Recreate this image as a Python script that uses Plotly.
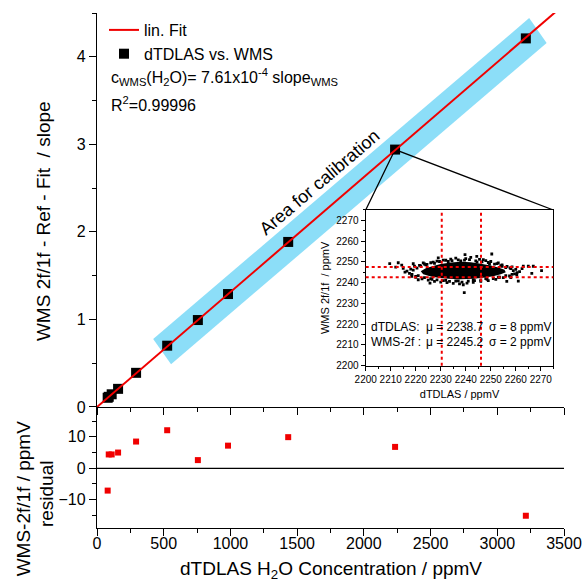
import plotly.graph_objects as go

# ---------------- data ----------------
conc_tdlas = [80, 88, 110, 158, 293, 526, 756, 982, 1433, 2234, 3214]          # ppmV
wms_scaled = [0.105, 0.116, 0.145, 0.207, 0.39, 0.70, 0.993, 1.29, 1.885, 2.94, 4.21]
residual = [-7.1, 4.4, 4.4, 5.0, 8.5, 12.1, 2.6, 7.2, 9.9, 6.8, -15.1]

fit_x = [0, 3500]
fit_y = [0, 4.595]

# calibration band corners (data units)
band_x = [421, 555, 3370, 3239, 421]
band_y = [0.777, 0.488, 4.157, 4.442, 0.777]

zoom_point_x = 2234
zoom_point_y = 2.94

# inset: dense core outline of the scatter cloud
core_x = [2222, 2224, 2227, 2230, 2234, 2238, 2242, 2246, 2250, 2253, 2255.5, 2256,
          2254, 2251, 2247, 2243, 2238, 2233, 2229, 2226, 2223, 2222]
core_y = [2245.5, 2247.0, 2248.0, 2249.0, 2249.7, 2250.1, 2249.8, 2249.1, 2248.3,
          2247.3, 2246.2, 2245.0, 2244.0, 2243.1, 2242.4, 2241.9, 2241.6, 2241.9,
          2242.4, 2243.0, 2244.0, 2245.5]
# inset: individual points around the core
pts_x = [2221.5, 2223.5, 2226, 2228.5, 2231, 2234, 2236, 2240, 2242, 2245.5, 2248, 2250,
         2252.5, 2254.5, 2256.5,
         2220, 2222.5, 2225, 2227.5, 2230, 2232.5, 2235, 2237.5, 2240.5, 2243, 2246,
         2249, 2252, 2255, 2257.5,
         2217.5, 2218, 2216.5, 2219.5, 2259.5, 2260, 2261.5, 2258.5,
         2209.6, 2213.0, 2214.4, 2215.7, 2219.0, 2223.0, 2229.0, 2239.7, 2244.4,
         2250.4, 2247.0, 2253.0, 2257.7, 2263.0, 2265.0, 2267.0, 2260.4, 2261.0,
         2270.3, 2266.4, 2256.4, 2239.0, 2239.4, 2225.7, 2221.0, 2218.4,
         2220.5, 2222, 2224.5, 2227, 2229.5, 2232, 2234.5, 2237, 2239.5, 2241.5, 2244,
         2246.5, 2249, 2251.5, 2254, 2256, 2258,
         2221, 2223.5, 2226, 2228.5, 2231, 2233.5, 2236, 2238.5, 2241, 2243.5, 2246,
         2248.5, 2251, 2253.5, 2256, 2258.5,
         2219, 2218.5, 2220, 2259, 2260.5, 2258, 2262.5, 2215, 2212,
         2224, 2227.5, 2233, 2238, 2244.5, 2249.5, 2254.5, 2226.5, 2232, 2237, 2243,
         2248, 2253]
pts_y = [2248.3, 2249.0, 2249.6, 2250.4, 2250.9, 2251.3, 2251.8, 2251.6, 2252.2, 2251.2,
         2250.6, 2250.2, 2249.2, 2248.6, 2247.8,
         2242.6, 2241.8, 2241.2, 2240.6, 2240.3, 2240.0, 2239.7, 2239.4, 2239.8, 2240.2,
         2240.6, 2241.0, 2241.6, 2242.4, 2243.2,
         2244.5, 2246.5, 2245.6, 2248.0, 2244.2, 2246.4, 2245.3, 2247.6,
         2249.2, 2249.6, 2248.4, 2245.1, 2249.1, 2249.5, 2251.9, 2253.5, 2252.7,
         2253.8, 2251.1, 2249.5, 2247.1, 2247.9, 2247.9, 2247.9, 2243.8, 2240.7,
         2245.8, 2244.5, 2240.6, 2239.0, 2235.2, 2239.8, 2241.4, 2243.1,
         2247.0, 2248.1, 2248.8, 2249.9, 2250.2, 2250.8, 2250.6, 2251.0, 2250.9, 2251.1,
         2250.5, 2250.0, 2249.7, 2248.9, 2248.2, 2247.2, 2246.8,
         2243.4, 2242.4, 2241.9, 2241.3, 2241.0, 2240.6, 2240.8, 2240.3, 2240.7, 2241.0,
         2241.2, 2241.6, 2242.0, 2242.6, 2243.4, 2244.0,
         2246.0, 2244.0, 2243.0, 2245.8, 2244.8, 2242.5, 2246.8, 2246.9, 2247.5,
         2248.6, 2249.3, 2250.2, 2250.5, 2249.9, 2249.0, 2247.9, 2241.6, 2241.1, 2240.9,
         2241.3, 2241.9, 2242.6]

sigma_x_lines = [2230.4, 2246.1]
sigma_y_lines = [2242.6, 2247.5]

# ---------------- layout constants ----------------
FONT = "Liberation Sans, Arial, sans-serif"
W, H = 584, 582
ML, MR, MT, MB = 97, 20, 13, 54
RES_DOM = [0, 0.235]
MAIN_DOM = [0.235, 1]
INS_X = [0.5754, 0.9771]
INS_Y = [0.3151, 0.6175]
X_RANGE = [0, 3500]
Y_RANGE = [0, 4.5]
R_RANGE = [-19, 19.5]
IX_RANGE = [2200, 2275]
IY_RANGE = [2200, 2275]

CYAN = "rgb(140,222,248)"
RED = "rgb(240,0,0)"

fig = go.Figure()

# calibration band
fig.add_trace(go.Scatter(x=band_x, y=band_y, fill="toself", fillcolor=CYAN,
                         mode="none", showlegend=False, hoverinfo="skip",
                         xaxis="x", yaxis="y"))

# connecting lines from zoom point to inset top corners (converted to main data coords)
def paper_to_main(px, py):
    fx = X_RANGE[0] + px * (X_RANGE[1] - X_RANGE[0])
    fy = Y_RANGE[0] + (py - MAIN_DOM[0]) / (MAIN_DOM[1] - MAIN_DOM[0]) * (Y_RANGE[1] - Y_RANGE[0])
    return fx, fy

lx, ly = paper_to_main(INS_X[0], INS_Y[1])
rx, ry = paper_to_main(INS_X[1], INS_Y[1])
fig.add_trace(go.Scatter(x=[lx, zoom_point_x, rx], y=[ly, zoom_point_y, ry], mode="lines",
                         line=dict(color="black", width=1.3), showlegend=False,
                         hoverinfo="skip", cliponaxis=False, xaxis="x", yaxis="y"))

# data points
fig.add_trace(go.Scatter(x=conc_tdlas, y=wms_scaled, mode="markers",
                         marker=dict(symbol="square", size=10, color="black"),
                         name="dTDLAS vs. WMS", legendrank=2, xaxis="x", yaxis="y"))
# linear fit
fig.add_trace(go.Scatter(x=fit_x, y=fit_y, mode="lines",
                         line=dict(color=RED, width=2),
                         name="lin. Fit", legendrank=1, xaxis="x", yaxis="y"))

# residuals
fig.add_trace(go.Scatter(x=conc_tdlas, y=residual, mode="markers",
                         marker=dict(symbol="square", size=6, color=RED),
                         showlegend=False, xaxis="x2", yaxis="y2"))

# inset cloud
fig.add_trace(go.Scatter(x=core_x, y=core_y, fill="toself", fillcolor="black",
                         mode="none", showlegend=False, hoverinfo="skip",
                         xaxis="x3", yaxis="y3"))
fig.add_trace(go.Scatter(x=pts_x, y=pts_y, mode="markers",
                         marker=dict(symbol="square", size=2.8, color="black"),
                         showlegend=False, xaxis="x3", yaxis="y3"))

shapes = []
for v in sigma_x_lines:
    shapes.append(dict(type="line", xref="x3", yref="y3 domain", x0=v, x1=v, y0=0, y1=1,
                       line=dict(color=RED, width=2, dash="dot")))
for v in sigma_y_lines:
    shapes.append(dict(type="line", xref="x3 domain", yref="y3", x0=0, x1=1, y0=v, y1=v,
                       line=dict(color=RED, width=2, dash="dot")))
# residual zero line
shapes.append(dict(type="line", xref="x2 domain", yref="y2", x0=0, x1=1, y0=0, y1=0,
                   line=dict(color="black", width=1.3)))

def ax(**kw):
    base = dict(showline=True, linecolor="black", linewidth=1.3, showgrid=False,
                zeroline=False, ticks="outside", ticklen=7, tickwidth=1.3,
                automargin=False,
                tickcolor="black", tickfont=dict(family=FONT, size=16, color="black"))
    base.update(kw)
    return base

minor_out = dict(ticks="outside", ticklen=4, tickwidth=1.3, tickcolor="black")
minor_in = dict(ticks="inside", ticklen=4, tickwidth=1.3, tickcolor="black")

annotations = [
    dict(xref="paper", yref="paper", x=0.0257, y=0.8757, xanchor="left", yanchor="middle",
         showarrow=False,
         text="c<sub>WMS</sub>(H<sub>2</sub>O)= 7.61x10<sup>-4</sup> slope<sub>WMS</sub>",
         font=dict(family=FONT, size=16, color="black")),
    dict(xref="paper", yref="paper", x=0.0257, y=0.8233, xanchor="left", yanchor="middle",
         showarrow=False, text="R<sup>2</sup>=0.99996",
         font=dict(family=FONT, size=16, color="black")),
    dict(xref="paper", yref="paper", x=0.4775, y=0.6718, xanchor="center", yanchor="middle",
         showarrow=False, text="Area for calibration", textangle=-40.5,
         font=dict(family=FONT, size=18, color="black")),
    dict(xref="paper", yref="paper", x=-0.1156, y=0.596, xanchor="center", yanchor="middle",
         showarrow=False, text="WMS 2f/1f - Ref - Fit \u00a0/ slope", textangle=-90,
         font=dict(family=FONT, size=19, color="black")),
    dict(xref="paper", yref="paper", x=-0.158, y=0.058, xanchor="center", yanchor="middle",
         showarrow=False, text="WMS-2f/1f / ppmV", textangle=-90,
         font=dict(family=FONT, size=19, color="black")),
    dict(xref="paper", yref="paper", x=-0.109, y=0.066, xanchor="center", yanchor="middle",
         showarrow=False, text="residual", textangle=-90,
         font=dict(family=FONT, size=19, color="black")),
    dict(xref="paper", yref="paper", x=0.5, y=-0.0816, xanchor="center", yanchor="middle",
         showarrow=False, text="dTDLAS H<sub>2</sub>O Concentration / ppmV",
         font=dict(family=FONT, size=19, color="black")),
]
# inset statistics text
ins_font = dict(family=FONT, size=12, color="black")
for yv, lab, mu, sg in [(2218.8, "dTDLAS:", "\u03bc = 2238.7", "\u03c3 = 8 ppmV"),
                        (2211.5, "WMS-2f :", "\u03bc = 2245.2", "\u03c3 = 2 ppmV")]:
    annotations.append(dict(xref="x3", yref="y3", x=2201.5, y=yv, xanchor="left",
                            yanchor="middle", showarrow=False, text=lab, font=ins_font))
    annotations.append(dict(xref="x3", yref="y3", x=2223.3, y=yv, xanchor="left",
                            yanchor="middle", showarrow=False, text=mu, font=ins_font))
    annotations.append(dict(xref="x3", yref="y3", x=2248.3, y=yv, xanchor="left",
                            yanchor="middle", showarrow=False, text=sg, font=ins_font))

fig.update_layout(
    width=W, height=H,
    margin=dict(l=ML, r=MR, t=MT, b=MB, autoexpand=False),
    paper_bgcolor="white", plot_bgcolor="white",
    font=dict(family=FONT, color="black"),
    showlegend=True,
    legend=dict(x=0.015, y=1.0, xanchor="left", yanchor="top", bgcolor="rgba(0,0,0,0)",
                font=dict(family=FONT, size=16, color="black"), itemwidth=30,
                tracegroupgap=0),
    xaxis=ax(domain=[0, 1], anchor="y", range=X_RANGE, dtick=500, showticklabels=False,
             minor=dict(dtick=250, **minor_out)),
    yaxis=ax(domain=MAIN_DOM, anchor="x", range=Y_RANGE, dtick=1,
             minor=dict(dtick=0.5, **minor_out)),
    xaxis4=ax(overlaying="x", side="top", anchor="y", range=X_RANGE, dtick=500,
              ticks="inside", ticklen=4, showticklabels=False,
              minor=dict(dtick=250, **minor_in)),
    yaxis4=ax(overlaying="y", side="right", anchor="x", range=Y_RANGE, dtick=1,
              ticks="inside", ticklen=4, showticklabels=False,
              minor=dict(dtick=0.5, **minor_in)),
    xaxis2=ax(domain=[0, 1], anchor="y2", range=X_RANGE, dtick=500, ticklabelstandoff=-6,
              minor=dict(dtick=250, **minor_out)),
    yaxis2=ax(domain=RES_DOM, anchor="x2", range=R_RANGE, dtick=10,
              minor=dict(dtick=5, **minor_out)),
    yaxis5=ax(overlaying="y2", side="right", anchor="x2", range=R_RANGE, dtick=10,
              ticks="inside", ticklen=4, showticklabels=False,
              minor=dict(dtick=5, **minor_in)),
    xaxis3=ax(domain=INS_X, anchor="y3", range=IX_RANGE, dtick=10, ticklen=4, mirror=True,
              tickangle=0,
              tickfont=dict(family=FONT, size=10, color="black"),
              minor=dict(dtick=5, ticks="outside", ticklen=2, tickcolor="black"),
              title=dict(text="dTDLAS / ppmV", font=dict(family=FONT, size=11, color="black"),
                         standoff=6)),
    yaxis3=ax(domain=INS_Y, anchor="x3", range=IY_RANGE, dtick=10, ticklen=4, mirror=True,
              tickfont=dict(family=FONT, size=10, color="black"),
              minor=dict(dtick=5, ticks="outside", ticklen=2, tickcolor="black"),
              title=dict(text="WMS 2f/1f \u00a0/ ppmV", font=dict(family=FONT, size=11, color="black"),
                         standoff=4)),
    shapes=shapes,
    annotations=annotations,
)

fig.write_html("out.html")
